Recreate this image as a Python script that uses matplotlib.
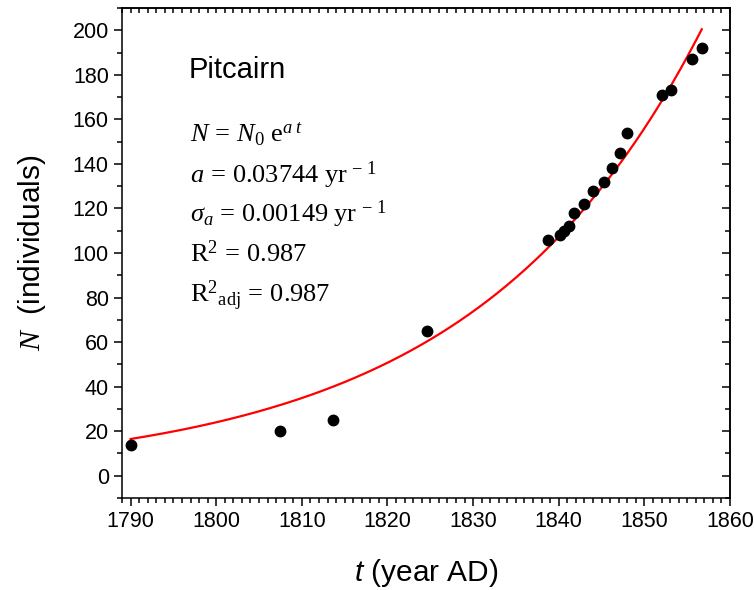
import numpy as np
import matplotlib
matplotlib.use("Agg")
import matplotlib.pyplot as plt
from matplotlib.ticker import MultipleLocator

plt.rcParams['font.family'] = ['Liberation Sans', 'DejaVu Sans']
plt.rcParams['mathtext.fontset'] = 'custom'
plt.rcParams['mathtext.rm'] = 'Liberation Serif'
plt.rcParams['mathtext.it'] = 'Liberation Serif:italic'
# bf slot used for the italic sans "t" of the x label
plt.rcParams['mathtext.bf'] = 'Liberation Sans:italic'

# census data
years = [1790, 1807.5, 1813.6, 1824.6, 1838.8, 1840.1, 1840.6, 1841.2, 1841.8,
         1843.0, 1844.0, 1845.3, 1846.2, 1847.2, 1848.0, 1852.0, 1853.1,
         1855.6, 1856.7]
population = [14, 20, 25, 65, 106, 108, 110, 112, 118,
              122, 128, 132, 138, 145, 154, 171, 173,
              187, 192]

# exponential fit N = N0 e^(a t), with N0 taken at 1790
fit_a = 0.03744
fit_n0 = 16.5
fit_start, fit_end = 1790, 1856.7

fig = plt.figure(figsize=(7.54, 5.90), dpi=100)
ax = fig.add_axes([0.1618, 0.1559, 0.8064, 0.8305])

t_fit = np.linspace(fit_start, fit_end, 300)
ax.plot(t_fit, fit_n0 * np.exp(fit_a * (t_fit - fit_start)), color='#ff0000', lw=1.6, zorder=2)
ax.plot(years, population, 'o', color='black', ms=7.5, zorder=3)

ax.set_xlim(1789, 1860)
ax.set_ylim(-10, 210)
ax.xaxis.set_major_locator(MultipleLocator(10))
ax.xaxis.set_minor_locator(MultipleLocator(1))
ax.yaxis.set_major_locator(MultipleLocator(20))
ax.yaxis.set_minor_locator(MultipleLocator(10))

for sp in ax.spines.values():
    sp.set_linewidth(1.1)
ax.tick_params(which='major', direction='out', length=6, width=1.1, labelsize=15.5)
ax.tick_params(which='minor', direction='out', length=3.5, width=1.1)

# mirrored axes with inward ticks
top = ax.secondary_xaxis('top')
top.xaxis.set_major_locator(MultipleLocator(10))
top.xaxis.set_minor_locator(MultipleLocator(1))
top.tick_params(which='major', direction='in', length=3.5, width=1.1, labeltop=False)
top.tick_params(which='minor', direction='in', length=3.5, width=1.1)
top.spines['top'].set_linewidth(1.1)
right = ax.secondary_yaxis('right')
right.yaxis.set_major_locator(MultipleLocator(20))
right.yaxis.set_minor_locator(MultipleLocator(10))
right.tick_params(which='major', direction='in', length=6, width=1.1, labelright=False)
right.tick_params(which='minor', direction='in', length=3.5, width=1.1)
right.spines['right'].set_linewidth(1.1)

ax.set_xlabel(r"$\mathbf{t}$ (year AD)", fontsize=21.5, labelpad=18)
ax.set_ylabel(r"$N$  (individuals)", fontsize=21.5, labelpad=18)

ax.text(0.109, 0.857, "Pitcairn", transform=ax.transAxes, fontsize=21, va='baseline')

formula_lines = [
    r"$N\,=\,N_0\ \mathrm{e}^{a\ t}$",
    r"$a\,=\,0.03744\ \mathrm{yr}\;{}^{\mathrm{-}\ 1}$",
    r"$\sigma_a\,=\,0.00149\ \mathrm{yr}\;{}^{\mathrm{-}\ 1}$",
    r"$\mathrm{R}^2\,=\,0.987$",
    r"$\mathrm{R}^{2}{}_{\mathrm{adj}}\,=\,0.987$",
]
line_y = [0.727, 0.643, 0.563, 0.482, 0.400]
for txt, yy in zip(formula_lines, line_y):
    ax.text(0.112, yy, txt, transform=ax.transAxes, fontsize=19, va='baseline')

fig.savefig("out.png", dpi=100)
